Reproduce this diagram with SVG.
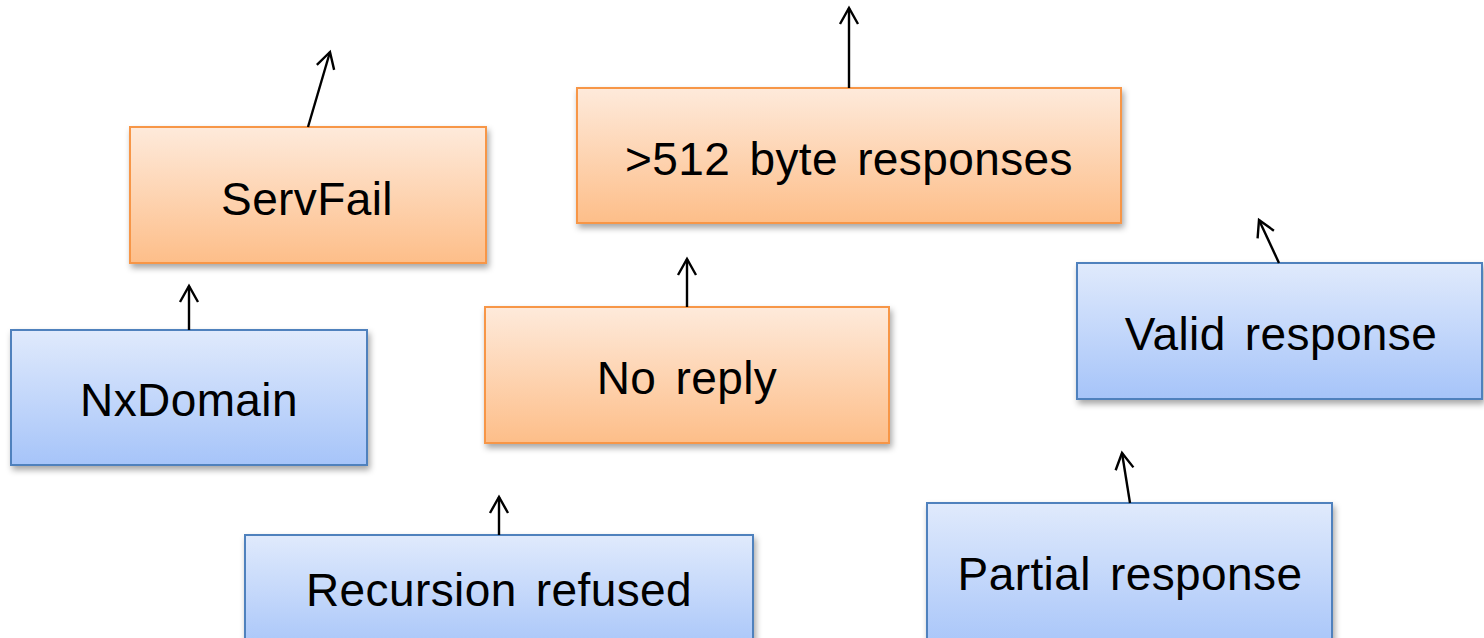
<svg xmlns="http://www.w3.org/2000/svg" width="1484" height="638" viewBox="0 0 1484 638">
<defs>
<linearGradient id="gO" x1="0" y1="0" x2="0" y2="1">
<stop offset="0" stop-color="#FEEADB"/>
<stop offset="1" stop-color="#FDBE89"/>
</linearGradient>
<linearGradient id="gB" x1="0" y1="0" x2="0" y2="1">
<stop offset="0" stop-color="#E0EAFC"/>
<stop offset="1" stop-color="#A6C4F9"/>
</linearGradient>
<filter id="sh" x="-10%" y="-10%" width="130%" height="140%">
<feDropShadow dx="2" dy="4" stdDeviation="3" flood-color="#000" flood-opacity="0.35"/>
</filter>
<marker id="ah" markerUnits="userSpaceOnUse" viewBox="-20 -12 24 24" markerWidth="24" markerHeight="24" refX="0" refY="0" orient="auto">
<path d="M-16,-9 L0,0 L-16,9" fill="none" stroke="#000" stroke-width="2.4" stroke-linejoin="miter"/>
</marker>
</defs>
<style>
.o{fill:url(#gO);stroke:#F79646;stroke-width:2;filter:url(#sh)}
.b{fill:url(#gB);stroke:#4F81BD;stroke-width:2;filter:url(#sh)}
.t{font-family:"Liberation Sans",Arial,sans-serif;font-size:46px;letter-spacing:0.4px;word-spacing:6px;fill:#000;text-anchor:middle}
.c{stroke:#000;stroke-width:2.4;fill:none;marker-end:url(#ah)}
</style>
<g id="servfail"><rect class="o" x="130" y="127" width="356" height="136"/><text class="t" x="307" y="215">ServFail</text></g>
<g id="nxdomain"><rect class="b" x="11" y="330" width="356" height="135"/><text class="t" x="189" y="416">NxDomain</text></g>
<g id="big"><rect class="o" x="577" y="88" width="544" height="135"/><text class="t" x="849" y="175">&gt;512 byte responses</text></g>
<g id="noreply"><rect class="o" x="485" y="307" width="404" height="136"/><text class="t" x="687" y="394">No reply</text></g>
<g id="valid"><rect class="b" x="1077" y="263" width="405" height="136"/><text class="t" x="1281" y="350">Valid response</text></g>
<g id="recursion"><rect class="b" x="245" y="535" width="508" height="120"/><text class="t" x="499" y="606">Recursion refused</text></g>
<g id="partial"><rect class="b" x="927" y="503" width="405" height="150"/><text class="t" x="1130" y="590">Partial response</text></g>
<g id="connectors">
<line class="c" x1="308" y1="127" x2="330" y2="52"/>
<line class="c" x1="189" y1="330" x2="189" y2="286"/>
<line class="c" x1="849" y1="88" x2="849" y2="8"/>
<line class="c" x1="687" y1="307" x2="687" y2="259"/>
<line class="c" x1="1279" y1="263" x2="1259" y2="220"/>
<line class="c" x1="499" y1="535" x2="499" y2="497"/>
<line class="c" x1="1130" y1="503" x2="1122" y2="453"/>
</g>
</svg>
